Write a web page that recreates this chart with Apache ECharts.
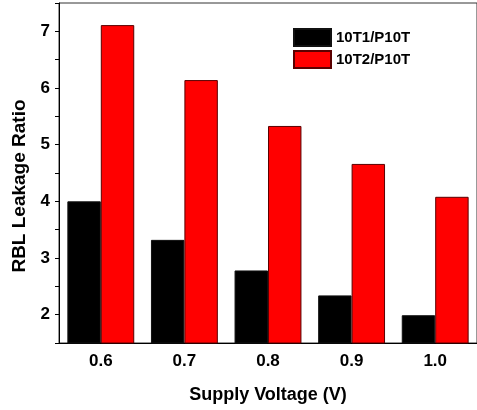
<!DOCTYPE html>
<html>
<head>
<meta charset="utf-8">
<script src="https://cdn.jsdelivr.net/npm/echarts@6/dist/echarts.min.js"></script>
<style>html,body{margin:0;padding:0;background:#fff;}#c{width:477px;height:410px;}</style>
</head>
<body>
<div id="c"></div>
<script>
var categories = ['0.6', '0.7', '0.8', '0.9', '1.0'];
var series1Name = '10T1/P10T';
var series2Name = '10T2/P10T';
var series1 = [4.00, 3.32, 2.78, 2.34, 1.99];
var series2 = [7.11, 6.14, 5.33, 4.66, 4.08];
var yMin = 1.5, yMax = 7.5, yStep = 0.5;

var FONT = 'Arial, "Liberation Sans", sans-serif';
var chart = echarts.init(document.getElementById('c'), null, {renderer: 'canvas'});
chart.setOption({
  animation: false,
  backgroundColor: '#fff',
  grid: {left: 59, top: 3, right: -5, bottom: 67, show: true, borderColor: '#333', borderWidth: 1, containLabel: false},
  legend: {
    orient: 'vertical', left: 288, top: 23,
    itemWidth: 37, itemHeight: 17, itemGap: 3,
    icon: 'rect',
    textStyle: {fontFamily: FONT, fontWeight: 'bold', fontSize: 15, color: '#000'},
    data: [series1Name, series2Name]
  },
  xAxis: {
    type: 'category', data: categories,
    name: 'Supply Voltage (V)', nameLocation: 'middle', nameGap: 43,
    nameTextStyle: {fontFamily: FONT, fontWeight: 'bold', fontSize: 18, color: '#000'},
    axisLine: {lineStyle: {color: '#000', width: 1}},
    axisTick: {alignWithLabel: true, length: 5, lineStyle: {color: '#000'}},
    axisLabel: {fontFamily: FONT, fontWeight: 'bold', fontSize: 17, color: '#000', margin: 10},
    splitLine: {show: false}
  },
  yAxis: {
    type: 'value', min: yMin, max: yMax, interval: yStep,
    name: 'RBL Leakage Ratio', nameLocation: 'middle', nameGap: 30, nameRotate: 90,
    nameTextStyle: {fontFamily: FONT, fontWeight: 'bold', fontSize: 19, color: '#000', padding: [0, 26, 0, 0]},
    axisLine: {show: true, lineStyle: {color: '#000', width: 1}},
    axisTick: {show: true, length: 4, lineStyle: {color: '#000'}},
    axisLabel: {
      fontFamily: FONT, fontWeight: 'bold', fontSize: 17, color: '#000', margin: 9,
      formatter: function (v) { return Math.abs(v - Math.round(v)) < 1e-6 ? String(Math.round(v)) : ''; }
    },
    splitLine: {show: false}
  },
  series: [
    {name: series1Name, type: 'bar', data: series1, barGap: '0%', barCategoryGap: '20%',
     itemStyle: {color: '#000', borderColor: '#111', borderWidth: 1}},
    {name: series2Name, type: 'bar', data: series2, barGap: '0%', barCategoryGap: '20%',
     itemStyle: {color: '#ff0000', borderColor: '#5a0000', borderWidth: 1}}
  ]
});
</script>
</body>
</html>
